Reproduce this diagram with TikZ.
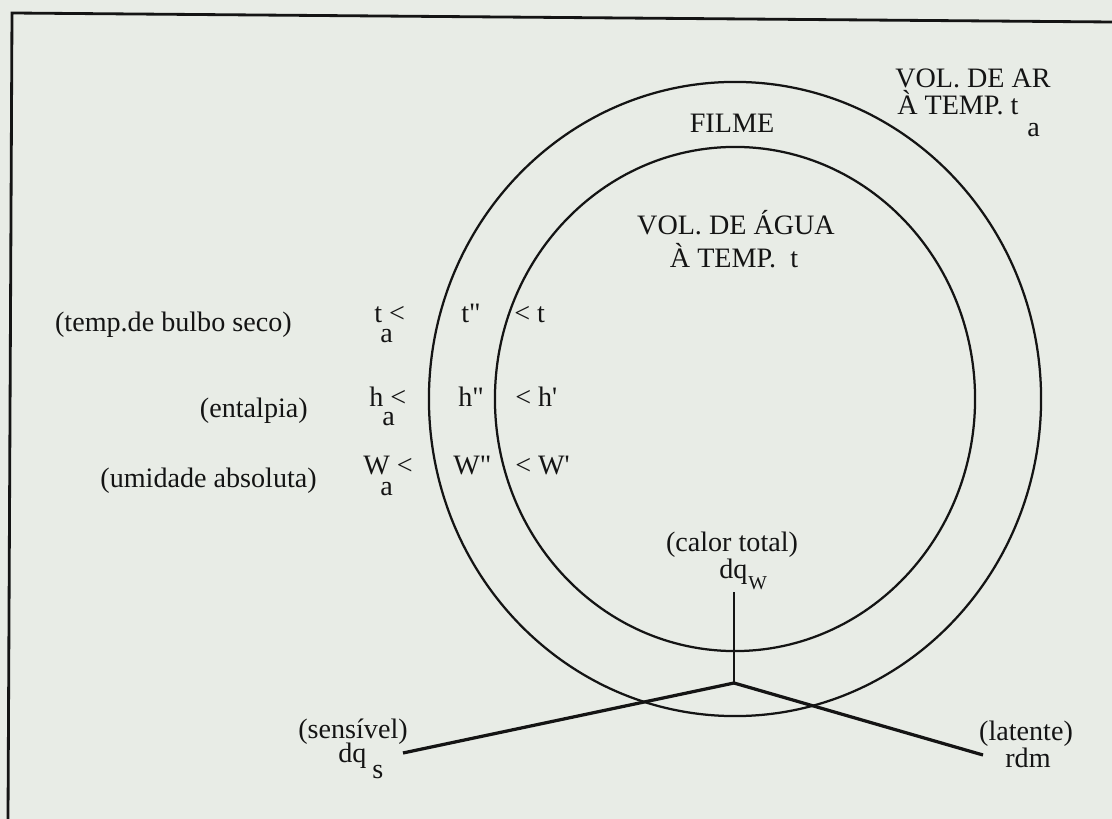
\documentclass[tikz,border=0pt]{standalone}
\usepackage{fontspec}
\setmainfont{Liberation Serif}
\usepackage{tikz}
\usetikzlibrary{shapes.geometric}
\definecolor{scanpaper}{HTML}{E8ECE6}
\definecolor{scanink}{HTML}{141414}

\begin{document}
\begin{tikzpicture}[x=0.025cm, y=-0.025cm,
  txt/.style={inner sep=0pt, text=scanink, font=\fontsize{20}{24}\selectfont},
  subtxt/.style={txt, font=\fontsize{14}{16}\selectfont},
  volume/.style={draw=scanink, line width=1.6pt, ellipse, inner sep=0pt}]
\useasboundingbox (0,0) rectangle (1112,819);
\fill[scanpaper] (0,0) rectangle (1112,819);

\draw[scanink, line width=2pt] (8,819) -- (12,13) -- (1112,22);

\node[volume, minimum width=15.3cm, minimum height=15.85cm] (volar) at (735,399) {};
\node[volume, minimum width=12cm, minimum height=12.6cm] (volagua) at (735,399) {};

\node[txt, anchor=base west] (arA) at (895,88) {VOL. DE AR};
\node[txt, anchor=base west] (arB) at (897,115) {À TEMP. t};
\node[txt, anchor=base west] (arSub) at (1027,137) {a};
\node[txt, anchor=base] (filme) at (732,133) {FILME};
\node[txt, anchor=base] (aguaA) at (736,235) {VOL. DE ÁGUA};
\node[txt, anchor=base] (aguaB) at (734,268) {À TEMP.\ \ t};

\node[txt, anchor=base east] (lbT) at (292,332) {(temp.de bulbo seco)};
\node[txt, anchor=base east] (lbH) at (308,418) {(entalpia)};
\node[txt, anchor=base east] (lbW) at (317,488) {(umidade absoluta)};

\node[txt, anchor=base west] (tAr) at (374,323) {t <};
\node[txt, anchor=base west] (tArSub) at (380,343) {a};
\node[txt, anchor=base west] (tFilme) at (461,323) {t\textquotedbl};
\node[txt, anchor=base west] (tAgua) at (514,323) {< t};

\node[txt, anchor=base west] (hAr) at (369,407) {h <};
\node[txt, anchor=base west] (hArSub) at (382,426) {a};
\node[txt, anchor=base west] (hFilme) at (458,407) {h\textquotedbl};
\node[txt, anchor=base west] (hAgua) at (515,407) {< h\textquotesingle};

\node[txt, anchor=base west] (wAr) at (363,475) {W <};
\node[txt, anchor=base west] (wArSub) at (380,496) {a};
\node[txt, anchor=base west] (wFilme) at (453,475) {W\textquotedbl};
\node[txt, anchor=base west] (wAgua) at (515,475) {< W\textquotesingle};

\node[txt, anchor=base] (calor) at (732,552) {(calor total)};
\node[txt, anchor=base west] (dqw) at (719,578) {dq};
\node[subtxt, anchor=base west] (dqwSub) at (748,589) {W};

\node[txt, anchor=base east] (sens) at (408,738) {(sensível)};
\node[txt, anchor=base west] (dqs) at (338,762) {dq};
\node[txt, anchor=base west] (dqsSub) at (372,778) {s};

\node[txt, anchor=base] (lat) at (1026,740) {(latente)};
\node[txt, anchor=base] (rdm) at (1028,767) {rdm};

\coordinate (topo) at (734,592);
\coordinate (junc) at (734,683);
\coordinate (fimS) at (403,753);
\coordinate (fimL) at (983,755);

\draw[scanink, line width=1.3pt] (topo) -- (junc);
\draw[scanink, line width=2.3pt, line join=round] (fimS) -- (junc) -- (fimL);
\end{tikzpicture}
\end{document}
